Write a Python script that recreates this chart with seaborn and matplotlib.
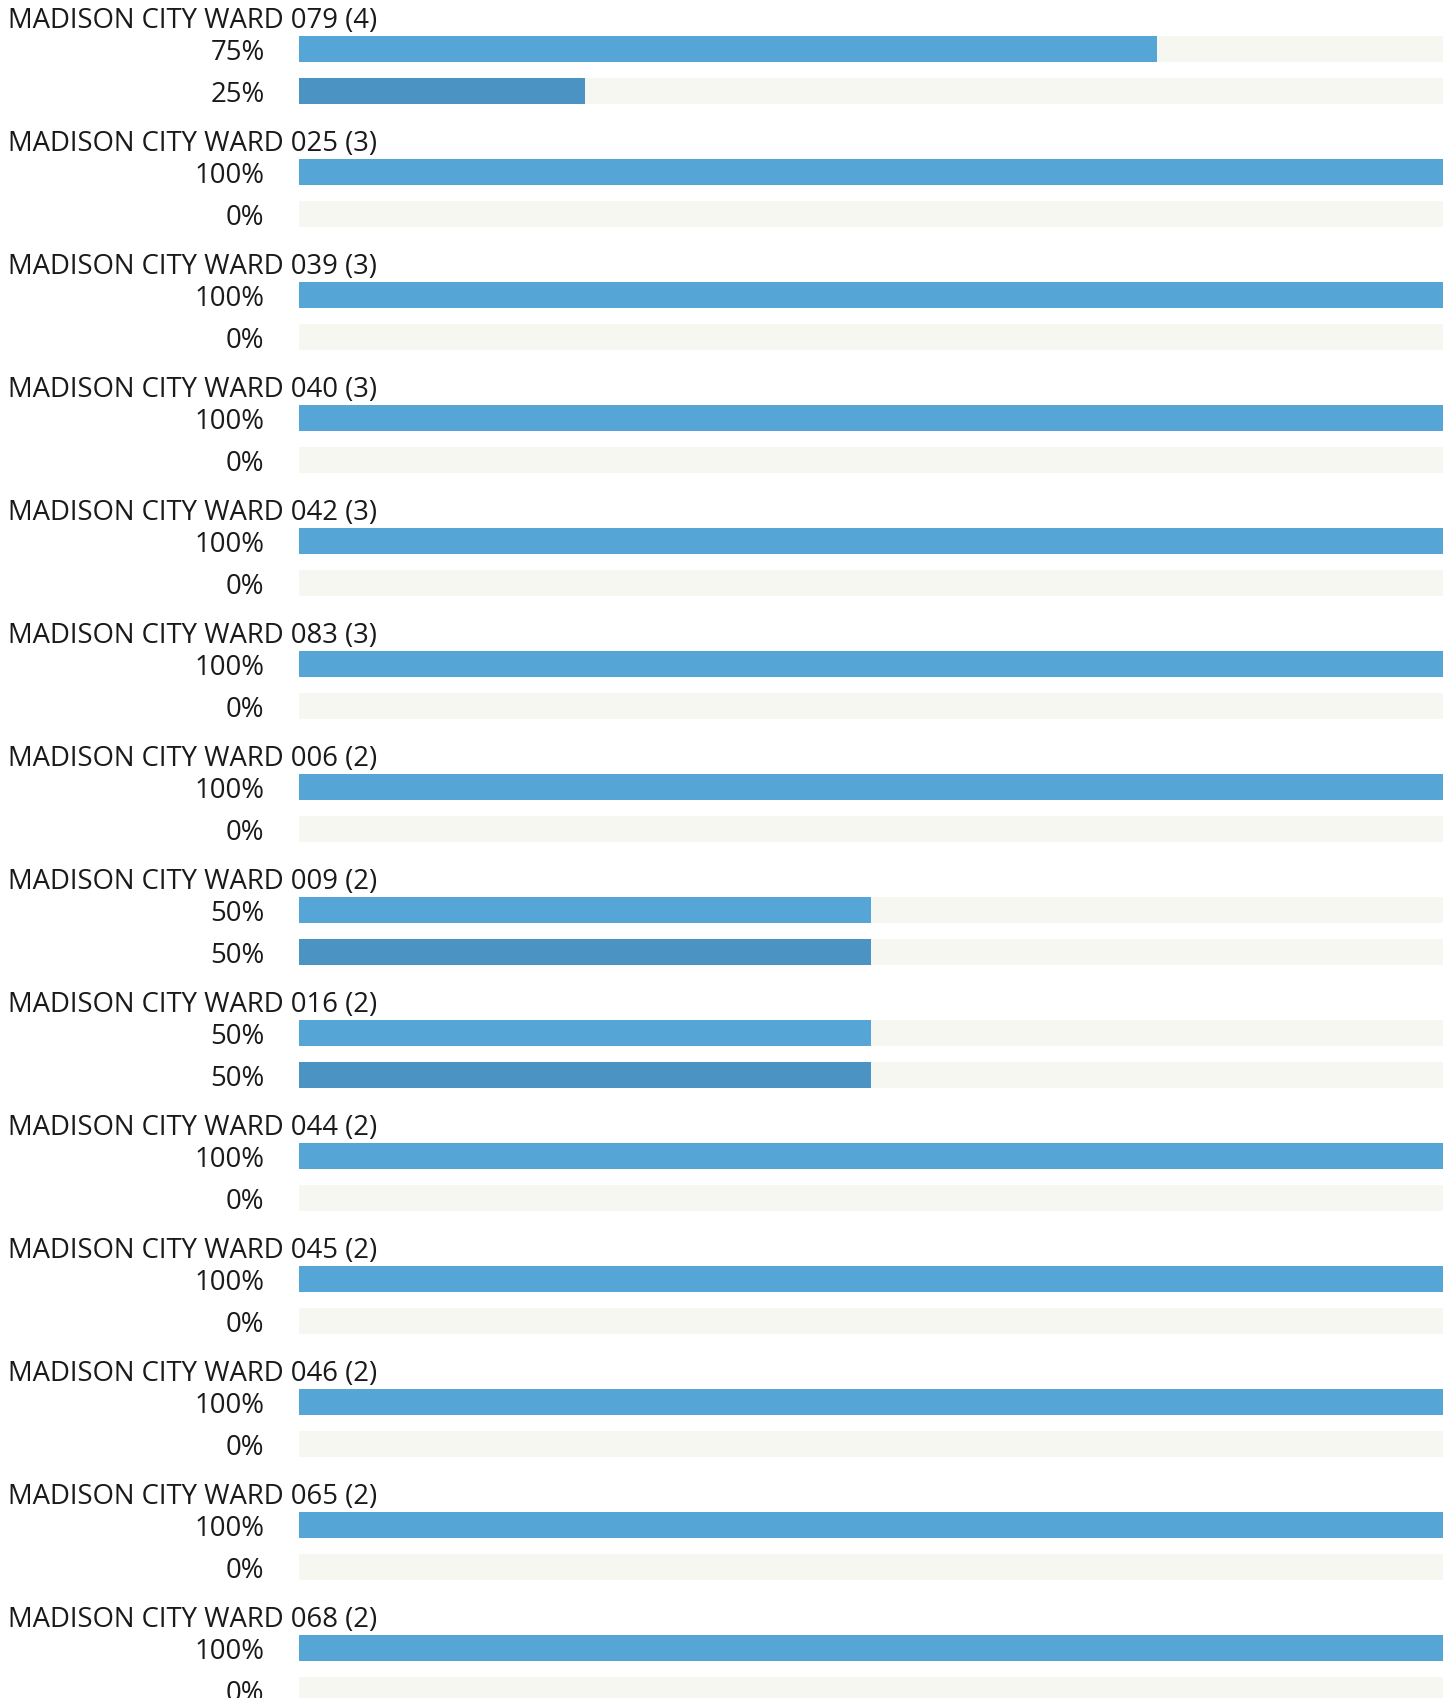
import numpy as np
import pandas as pd
import matplotlib.pyplot as plt
import seaborn as sns

# Data
wards = ["079", "025", "039", "040", "042", "083", "006",
         "009", "016", "044", "045", "046", "065", "068"]
counts = [4, 3, 3, 3, 3, 3, 2, 2, 2, 2, 2, 2, 2, 2]
first_pct = [75, 100, 100, 100, 100, 100, 100, 50, 50, 100, 100, 100, 100, 100]
second_pct = [25, 0, 0, 0, 0, 0, 0, 50, 50, 0, 0, 0, 0, 0]

sns.set_theme(style="white")
plt.rcParams['font.family'] = ['Open Sans', 'DejaVu Sans']

W, H = 1455, 1699
fig = plt.figure(figsize=(W / 100, H / 100), dpi=100)

pitch = 123.0      # px between groups
row = 42.15        # px between the two bars of a group
bar_h = 26.0
x0, x1 = 298.5, 1443.0
txt = "#1a1a1a"
fs = 19.8

for k, ward in enumerate(wards):
    top = 49.7 + pitch * k - row / 2
    bottom = top + 2 * row
    ax = fig.add_axes([x0 / W, 1 - bottom / H, (x1 - x0) / W, 2 * row / H])
    df = pd.DataFrame({"row": [0, 1],
                       "pct": [first_pct[k], second_pct[k]],
                       "track": [100, 100]})
    sns.barplot(data=df, x="track", y="row", orient="h", color="#F7F7F2",
                saturation=1, width=bar_h / row, linewidth=0, ax=ax)
    sns.barplot(data=df, x="pct", y="row", hue="row", orient="h",
                palette=["#55A5D7", "#4A93C3"], saturation=1,
                width=bar_h / row, linewidth=0, legend=False, ax=ax)
    ax.set_xlim(0, 100)
    ax.set_ylim(1.5, -0.5)
    ax.set_xticks([])
    ax.set_yticks([0, 1])
    ax.set_yticklabels([f"{first_pct[k]}%", f"{second_pct[k]}%"])
    ax.tick_params(axis="y", length=0, pad=34 * 0.72, labelsize=fs, labelcolor=txt)
    ax.set_xlabel("")
    ax.set_ylabel("")
    for s in ax.spines.values():
        s.set_visible(False)
    ax.patch.set_alpha(0)

    fig.text(8 / W, 1 - (28.0 + pitch * k) / H,
             f"MADISON CITY WARD {ward} ({counts[k]})",
             fontsize=fs, color=txt, va="baseline", ha="left")

fig.savefig("out.png", dpi=100)
